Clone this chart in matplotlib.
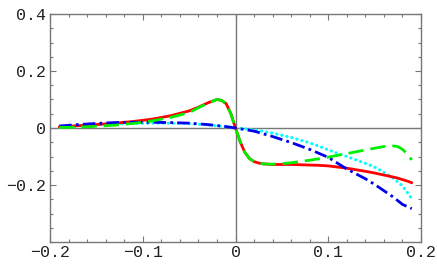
import matplotlib
matplotlib.use("Agg")
import matplotlib.pyplot as plt
from matplotlib.ticker import MultipleLocator, FixedLocator

x_left = [-0.19, -0.17, -0.15, -0.13, -0.11, -0.09, -0.07, -0.05, -0.04, -0.03,
          -0.02, -0.015, -0.01, -0.005, 0.0, 0.005, 0.01, 0.015, 0.02, 0.025,
          0.03, 0.04, 0.05, 0.06, 0.08, 0.09, 0.10, 0.12, 0.14, 0.15, 0.16,
          0.17, 0.175, 0.18, 0.185, 0.19]

red = [0.004, 0.008, 0.012, 0.017, 0.023, 0.031, 0.043, 0.060, 0.073, 0.088,
       0.100, 0.097, 0.085, 0.050, 0.0, -0.048, -0.085, -0.107, -0.118, -0.123,
       -0.126, -0.128, -0.128, -0.128, -0.130, -0.131, -0.133, -0.141, -0.152, -0.158, -0.165,
       -0.172, -0.176, -0.181, -0.186, -0.192]

green = [0.002, 0.003, 0.006, 0.010, 0.016, 0.025, 0.037, 0.054, 0.071, 0.087,
         0.100, 0.097, 0.085, 0.050, 0.0, -0.048, -0.085, -0.107, -0.118, -0.123,
         -0.126, -0.127, -0.125, -0.122, -0.113, -0.108, -0.102, -0.090, -0.077, -0.071, -0.065,
         -0.063, -0.065, -0.075, -0.090, -0.112]

x_main = [-0.19, -0.17, -0.15, -0.13, -0.11, -0.09, -0.07, -0.05, -0.03, -0.01,
          0.0, 0.02, 0.04, 0.06, 0.08, 0.09, 0.10, 0.12, 0.14, 0.15, 0.16,
          0.17, 0.18, 0.19]

blue = [0.007, 0.012, 0.016, 0.019, 0.020, 0.020, 0.019, 0.017, 0.012, 0.005,
        0.0, -0.011, -0.030, -0.051, -0.075, -0.089, -0.103, -0.144, -0.178, -0.198, -0.220,
        -0.242, -0.268, -0.283]

cyan = [0.003, 0.007, 0.011, 0.014, 0.016, 0.017, 0.017, 0.015, 0.011, 0.004,
        0.0, -0.006, -0.018, -0.033, -0.052, -0.064, -0.077, -0.100, -0.124, -0.137, -0.155,
        -0.176, -0.203, -0.248]

x_ticks = [-0.2, -0.1, 0.0, 0.1, 0.2]
x_labels = ["\u22120.2", "\u22120.1", "0", "0.1", "0.2"]
y_ticks = [-0.2, 0.0, 0.2, 0.4]
y_labels = ["\u22120.2", "0", "0.2", "0.4"]

fig = plt.figure(figsize=(4.37, 2.70), dpi=100)
ax = fig.add_axes([50/437, 1-242/270, 371/437, 228/270])

frame_c = "#777777"
ax.axhline(0, color=frame_c, lw=1.0, zorder=1)
ax.axvline(0, color=frame_c, lw=1.0, zorder=1)

ax.plot(x_left, red, color="#ff0000", lw=2.0, zorder=3, solid_capstyle="round")
ax.plot(x_left, green, color="#00ee00", lw=2.0, dashes=(5.5, 2.5), zorder=4)
ax.plot(x_main, cyan, color="#00ffff", lw=2.2, dashes=(0.1, 1.6), dash_capstyle="round", zorder=2)
ax.plot(x_main, blue, color="#0000ee", lw=2.0, dashes=(4.5, 1.5, 1.0, 1.5), zorder=3)

ax.set_xlim(-0.2, 0.2)
ax.set_ylim(-0.4, 0.4)

ax.xaxis.set_major_locator(FixedLocator(x_ticks))
ax.set_xticklabels(x_labels)
ax.yaxis.set_major_locator(FixedLocator(y_ticks))
ax.set_yticklabels(y_labels)
ax.xaxis.set_minor_locator(MultipleLocator(0.02))
ax.yaxis.set_minor_locator(MultipleLocator(0.05))

ax.tick_params(which="both", direction="in", top=True, right=True, color=frame_c, width=0.8)
ax.tick_params(which="major", length=4.5)
ax.tick_params(which="minor", length=2.5)
ax.tick_params(axis="both", labelsize=12, labelcolor="#222222")
ax.tick_params(axis="x", pad=2)
ax.tick_params(axis="y", pad=3)
for lab in ax.get_xticklabels() + ax.get_yticklabels():
    lab.set_fontfamily("Liberation Mono")
for s in ax.spines.values():
    s.set_color(frame_c)
    s.set_linewidth(1.0)

fig.savefig("out.png", dpi=100)
